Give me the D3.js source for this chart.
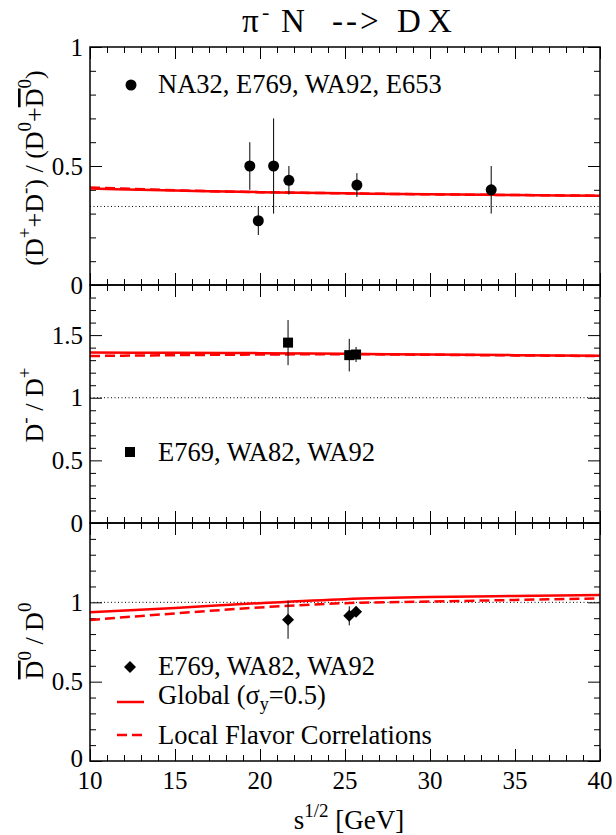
<!DOCTYPE html>
<html><head><meta charset="utf-8">
<script src="https://cdn.jsdelivr.net/npm/d3@7"></script>
<style>
body{margin:0;background:#fff}
svg{display:block}
</style>
</head><body>
<svg id="c" width="616" height="835"></svg>
<script>
// ---------------- data ----------------
const xTicksMajor = [10, 15, 20, 25, 30, 35, 40];
const xTickLabels = ["10", "15", "20", "25", "30", "35", "40"];

// model curves (sqrt(s) grid)
const curveS = [10, 15, 20, 25, 30, 35, 40];
const topGlobal = [0.405, 0.397, 0.390, 0.385, 0.381, 0.378, 0.375];
const topLocal  = [0.410, 0.398, 0.390, 0.385, 0.381, 0.378, 0.375];
const midGlobal = [1.361, 1.359, 1.356, 1.351, 1.345, 1.340, 1.335];
const midLocal  = [1.333, 1.340, 1.345, 1.347, 1.343, 1.338, 1.333];
const botGlobal = [0.937, 0.965, 0.995, 1.020, 1.033, 1.040, 1.047];
const botLocal  = [0.889, 0.930, 0.968, 0.995, 1.005, 1.015, 1.025];

// data points
const circS   = [19.4, 19.9, 20.8, 21.7, 25.7, 33.6];
const circV   = [0.50, 0.27, 0.50, 0.44, 0.42, 0.40];
const circErr = [0.10, 0.06, 0.20, 0.06, 0.05, 0.10];

const sqS   = [21.65, 25.25, 25.65];
const sqV   = [1.44, 1.34, 1.345];
const sqErr = [0.18, 0.13, 0.06];

const diaS   = [21.65, 25.25, 25.65];
const diaV   = [0.89, 0.915, 0.94];
const diaErr = [0.12, 0.06, 0.02];

// reference (dotted) lines
const refLines = [0.33, 1.0, 1.0];

// y axis tick labels per panel
const yLabelsTop = [0, 0.5, 1];
const yLabelsMid = [0, 0.5, 1, 1.5];
const yLabelsBot = [0, 0.5, 1];

const legendTop = "NA32, E769, WA92, E653";
const legendMid = "E769, WA82, WA92";
const legendBot = "E769, WA82, WA92";
const legendGlobal = ["Global (σ", "y", "=0.5)"];
const legendLocal = "Local Flavor Correlations";

// ---------------- drawing ----------------
const FONT = '"Liberation Serif", "Times New Roman", Tinos, serif';
const svg = d3.select("#c");
svg.append("rect").attr("width", 616).attr("height", 835).attr("fill", "#fff");

const L = 90, R = 600;
const x = d3.scaleLinear().domain([10, 40]).range([L, R]);
const RED = "#ff0000";

const panels = [
  {top: 47, bottom: 285, max: 1.0, labels: yLabelsTop, g: topGlobal, l: topLocal, ref: refLines[0]},
  {top: 285, bottom: 523, max: 1.9, labels: yLabelsMid, g: midGlobal, l: midLocal, ref: refLines[1]},
  {top: 523, bottom: 761, max: 1.5, labels: yLabelsBot, g: botGlobal, l: botLocal, ref: refLines[2]}
];
panels.forEach(p => { p.y = d3.scaleLinear().domain([0, p.max]).range([p.bottom, p.top]); });

const majLen = 12, minLen = 6;
const xMinor = d3.range(10, 40.001, 1).filter(v => v % 5 !== 0);

function styleAxis(g) {
  g.select(".domain").remove();
  g.selectAll(".tick line").attr("stroke", "#000").attr("stroke-width", 1);
  g.selectAll(".tick text").remove();
}

panels.forEach((p, i) => {
  const y = p.y;
  const yMinor = d3.range(0, p.max + 1e-9, 0.1).map(v => +v.toFixed(2)).filter(v => Math.abs(v * 2 - Math.round(v * 2)) > 1e-6);
  const yMajor = d3.range(0, p.max + 1e-9, 0.5).map(v => +v.toFixed(2));

  svg.append("g").attr("transform", `translate(0,${p.bottom})`)
    .call(d3.axisBottom(x).tickValues(xTicksMajor).tickSize(-majLen)).call(styleAxis);
  svg.append("g").attr("transform", `translate(0,${p.bottom})`)
    .call(d3.axisBottom(x).tickValues(xMinor).tickSize(-minLen)).call(styleAxis);
  svg.append("g").attr("transform", `translate(0,${p.top})`)
    .call(d3.axisTop(x).tickValues(xTicksMajor).tickSize(-majLen)).call(styleAxis);
  svg.append("g").attr("transform", `translate(0,${p.top})`)
    .call(d3.axisTop(x).tickValues(xMinor).tickSize(-minLen)).call(styleAxis);

  svg.append("g").attr("transform", `translate(${L},0)`)
    .call(d3.axisLeft(y).tickValues(yMajor).tickSize(-majLen)).call(styleAxis);
  svg.append("g").attr("transform", `translate(${L},0)`)
    .call(d3.axisLeft(y).tickValues(yMinor).tickSize(-minLen)).call(styleAxis);
  svg.append("g").attr("transform", `translate(${R},0)`)
    .call(d3.axisRight(y).tickValues(yMajor).tickSize(-majLen)).call(styleAxis);
  svg.append("g").attr("transform", `translate(${R},0)`)
    .call(d3.axisRight(y).tickValues(yMinor).tickSize(-minLen)).call(styleAxis);

  // y tick labels (the lowest "0" of the bottom panel sits a little higher, as in the reference)
  svg.append("g").selectAll("text").data(p.labels).join("text")
    .attr("x", 83).attr("y", d => y(d) - (i === 2 && d === 0 ? 3 : 0)).attr("dy", "0.35em")
    .attr("text-anchor", "end").attr("font-size", 25)
    .text(d => d === 0 ? "0" : d3.format("")(d));

  svg.append("line").attr("x1", L).attr("x2", R)
    .attr("y1", y(p.ref)).attr("y2", y(p.ref))
    .attr("stroke", "#000").attr("stroke-width", 1).attr("stroke-dasharray", "1,2.5");

  const line = d3.line().x((d, j) => x(curveS[j])).y(d => y(d)).curve(d3.curveMonotoneX);
  svg.append("path").attr("d", line(p.l)).attr("fill", "none")
    .attr("stroke", RED).attr("stroke-width", 2.5).attr("stroke-dasharray", "10,5");
  svg.append("path").attr("d", line(p.g)).attr("fill", "none")
    .attr("stroke", RED).attr("stroke-width", 2.5);

  svg.append("rect").attr("x", L).attr("y", p.top).attr("width", R - L).attr("height", p.bottom - p.top)
    .attr("fill", "none").attr("stroke", "#000").attr("stroke-width", 1.5);
});

svg.append("g").selectAll("text").data(xTicksMajor).join("text")
  .attr("x", d => x(d)).attr("y", 789).attr("text-anchor", "middle").attr("font-size", 25)
  .text((d, i) => xTickLabels[i]);

function errBars(yScale, S, V, E) {
  svg.append("g").selectAll("line").data(S).join("line")
    .attr("x1", d => x(d)).attr("x2", d => x(d))
    .attr("y1", (d, i) => yScale(V[i] - E[i])).attr("y2", (d, i) => yScale(V[i] + E[i]))
    .attr("stroke", "#000").attr("stroke-width", 1);
}
const pTop = panels[0], pMid = panels[1], pBot = panels[2];

errBars(pTop.y, circS, circV, circErr);
svg.append("g").selectAll("circle").data(circS).join("circle")
  .attr("cx", d => x(d)).attr("cy", (d, i) => pTop.y(circV[i])).attr("r", 5.5).attr("fill", "#000");

errBars(pMid.y, sqS, sqV, sqErr);
svg.append("g").selectAll("rect").data(sqS).join("rect")
  .attr("x", d => x(d) - 5).attr("y", (d, i) => pMid.y(sqV[i]) - 5).attr("width", 10).attr("height", 10).attr("fill", "#000");

errBars(pBot.y, diaS, diaV, diaErr);
const dia = h => `M0,${-h}L${h},0L0,${h}L${-h},0Z`;
svg.append("g").selectAll("path").data(diaS).join("path")
  .attr("transform", (d, i) => `translate(${x(d)},${pBot.y(diaV[i])})`).attr("d", dia(6)).attr("fill", "#000");

const LF = 26.5;
svg.append("circle").attr("cx", 131).attr("cy", 85).attr("r", 5.5).attr("fill", "#000");
svg.append("text").attr("x", 158).attr("y", 93).attr("font-size", LF).text(legendTop);

svg.append("rect").attr("x", 125).attr("y", 447).attr("width", 10).attr("height", 10).attr("fill", "#000");
svg.append("text").attr("x", 158).attr("y", 461).attr("font-size", LF).text(legendMid);

svg.append("path").attr("transform", "translate(130,667)").attr("d", dia(6)).attr("fill", "#000");
svg.append("text").attr("x", 158).attr("y", 675).attr("font-size", LF).text(legendBot);

svg.append("line").attr("x1", 117).attr("x2", 144).attr("y1", 702).attr("y2", 702).attr("stroke", RED).attr("stroke-width", 2.5);
const tg = svg.append("text").attr("x", 158).attr("y", 704).attr("font-size", LF);
tg.append("tspan").text(legendGlobal[0]);
tg.append("tspan").attr("dy", 6).attr("font-size", 18).text(legendGlobal[1]);
tg.append("tspan").attr("dy", -6).text(legendGlobal[2]);

svg.append("line").attr("x1", 117).attr("x2", 144).attr("y1", 735).attr("y2", 735).attr("stroke", RED).attr("stroke-width", 2.5).attr("stroke-dasharray", "10,5");
svg.append("text").attr("x", 158).attr("y", 744).attr("font-size", LF).text(legendLocal);

// title with explicit segment positions
const tt = svg.append("text").attr("y", 32).attr("font-size", 33);
tt.append("tspan").attr("x", 242).text("π");
tt.append("tspan").attr("x", 262).attr("dy", -13).attr("font-size", 22).text("-");
tt.append("tspan").attr("x", 281).attr("dy", 13).text("N");
tt.append("tspan").attr("x", 332).attr("letter-spacing", 3).text("-->");
tt.append("tspan").attr("x", 397).text("D");
tt.append("tspan").attr("x", 428).text("X");

const xt = svg.append("text").attr("x", 349).attr("y", 829).attr("text-anchor", "middle").attr("font-size", 27);
xt.append("tspan").text("s");
xt.append("tspan").attr("dy", -12).attr("font-size", 19).text("1/2");
xt.append("tspan").attr("dy", 12).text(" [GeV]");

function yTitle(cy, segs) {
  const t = svg.append("text").attr("transform", `translate(43,${cy}) rotate(-90)`)
    .attr("text-anchor", "middle").attr("font-size", 26);
  let shift = 0;
  segs.forEach(s => {
    const ts = t.append("tspan").text(s.t);
    const target = s.sup ? -12 : 0;
    if (target !== shift) { ts.attr("dy", target - shift); shift = target; }
    if (s.sup) ts.attr("font-size", 19);
    if (s.over) ts.attr("text-decoration", "overline");
  });
}
yTitle(168, [{t: "(D"}, {t: "+", sup: 1}, {t: "+D"}, {t: "-", sup: 1}, {t: ") / (D"}, {t: "0", sup: 1}, {t: "+"}, {t: "D", over: 1}, {t: "0", sup: 1}, {t: ")"}]);
yTitle(405, [{t: "D"}, {t: "-", sup: 1}, {t: " / D"}, {t: "+", sup: 1}]);
yTitle(641, [{t: "D", over: 1}, {t: "0", sup: 1}, {t: " / D"}, {t: "0", sup: 1}]);

svg.selectAll("text").style("font-family", FONT).style("white-space", "pre").attr("fill", "#000");
</script>
</body></html>
